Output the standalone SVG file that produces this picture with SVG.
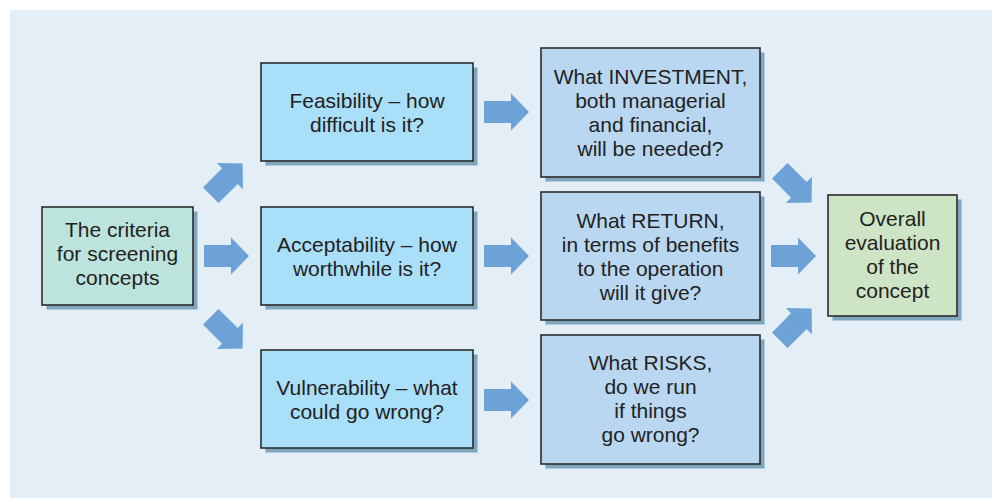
<svg xmlns="http://www.w3.org/2000/svg" width="992" height="499" viewBox="0 0 992 499">
<style>
.bg{fill:#e3eef6}
.sh{fill:#7fa5bf}
.box{stroke:#2b2b2b;stroke-width:1.6}
.c1{fill:#bde4dc}
.c2{fill:#aadffa}
.c3{fill:#b9d7f1}
.c4{fill:#cee5c5}
text{font-family:"Liberation Sans",Arial,sans-serif;font-size:21px;fill:#222;text-anchor:middle}
.ar{fill:#6ca2d6}
</style>
<defs>
<path id="arr" d="M-22.5,-11 H4.5 V-18.5 L22.5,0 L4.5,18.5 V11 H-22.5 Z"/>
</defs>
<rect class="bg" x="10" y="10" width="982" height="488"/>
<g id="connectors">
<use href="#arr" class="ar" transform="translate(226.7,179.3) rotate(-45)"/>
<use href="#arr" class="ar" transform="translate(226.5,256)"/>
<use href="#arr" class="ar" transform="translate(226.7,332.7) rotate(45)"/>
<use href="#arr" class="ar" transform="translate(506.5,112)"/>
<use href="#arr" class="ar" transform="translate(506.5,256)"/>
<use href="#arr" class="ar" transform="translate(506.5,400)"/>
<use href="#arr" class="ar" transform="translate(795.7,186.7) rotate(45)"/>
<use href="#arr" class="ar" transform="translate(793.5,256)"/>
<use href="#arr" class="ar" transform="translate(795.7,324.3) rotate(-45)"/>
</g>
<g id="criteria">
<rect class="sh" x="46.5" y="211.5" width="151" height="98"/>
<rect class="box c1" x="42" y="207" width="151" height="98"/>
<text x="117.5" y="237">The criteria</text>
<text x="117.5" y="261">for screening</text>
<text x="117.5" y="285">concepts</text>
</g>
<g id="feasibility">
<rect class="sh" x="265.5" y="67.5" width="212" height="98"/>
<rect class="box c2" x="261" y="63" width="212" height="98"/>
<text x="367" y="108">Feasibility – how</text>
<text x="367" y="132">difficult is it?</text>
</g>
<g id="acceptability">
<rect class="sh" x="265.5" y="211.5" width="212" height="98"/>
<rect class="box c2" x="261" y="207" width="212" height="98"/>
<text x="367" y="252">Acceptability – how</text>
<text x="367" y="276">worthwhile is it?</text>
</g>
<g id="vulnerability">
<rect class="sh" x="265.5" y="354.5" width="212" height="98"/>
<rect class="box c2" x="261" y="350" width="212" height="98"/>
<text x="367" y="395">Vulnerability – what</text>
<text x="367" y="419">could go wrong?</text>
</g>
<g id="investment">
<rect class="sh" x="545.5" y="52.5" width="219" height="129"/>
<rect class="box c3" x="541" y="48" width="219" height="129"/>
<text x="650.5" y="84">What INVESTMENT,</text>
<text x="650.5" y="108">both managerial</text>
<text x="650.5" y="132">and financial,</text>
<text x="650.5" y="156">will be needed?</text>
</g>
<g id="return">
<rect class="sh" x="545.5" y="196.5" width="219" height="128"/>
<rect class="box c3" x="541" y="192" width="219" height="128"/>
<text x="650.5" y="228">What RETURN,</text>
<text x="650.5" y="252">in terms of benefits</text>
<text x="650.5" y="276">to the operation</text>
<text x="650.5" y="300">will it give?</text>
</g>
<g id="risks">
<rect class="sh" x="545.5" y="339.5" width="219" height="129"/>
<rect class="box c3" x="541" y="335" width="219" height="129"/>
<text x="650.5" y="370">What RISKS,</text>
<text x="650.5" y="394">do we run</text>
<text x="650.5" y="418">if things</text>
<text x="650.5" y="442">go wrong?</text>
</g>
<g id="overall">
<rect class="sh" x="832.5" y="199.5" width="129" height="121"/>
<rect class="box c4" x="828" y="195" width="129" height="121"/>
<text x="892.5" y="226">Overall</text>
<text x="892.5" y="250">evaluation</text>
<text x="892.5" y="274">of the</text>
<text x="892.5" y="298">concept</text>
</g>
</svg>
